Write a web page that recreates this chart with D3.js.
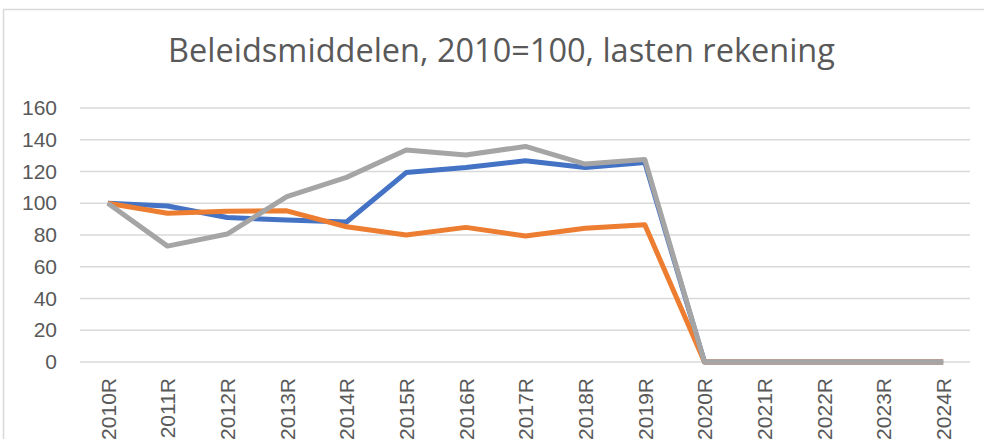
<!DOCTYPE html>
<html>
<head>
<meta charset="utf-8">
<script src="https://cdn.jsdelivr.net/npm/d3@7"></script>
<style>
  body { margin: 0; background: #fff; }
  svg { display: block; }
</style>
</head>
<body>
<div id="chartContainer"></div>
<script>
// data
const years = ["2010R", "2011R", "2012R", "2013R", "2014R", "2015R", "2016R", "2017R",
  "2018R", "2019R", "2020R", "2021R", "2022R", "2023R", "2024R"];
const blueValues = [100, 98.3, 91, 89.4, 88.2, 119.3, 122.5, 126.8, 122.5, 125.6, 0, 0, 0, 0, 0];
const orangeValues = [100, 93.7, 95, 95.2, 85.2, 80, 84.8, 79.4, 84.2, 86.5, 0, 0, 0, 0, 0];
const grayValues = [100, 73, 80.6, 104.1, 116.3, 133.5, 130.4, 135.8, 124.7, 127.6, 0, 0, 0, 0, 0];
const yTicks = [0, 20, 40, 60, 80, 100, 120, 140, 160];
const title = "Beleidsmiddelen, 2010=100, lasten rekening";

const W = 984, H = 439;
const margin = { top: 108, right: 14, bottom: 77, left: 80 };

const svg = d3.select("#chartContainer")
  .append("svg")
  .attr("width", W)
  .attr("height", H);

// chart frame
svg.append("path")
  .attr("d", "M3.5," + H + "V9.5H" + W)
  .attr("fill", "none")
  .attr("stroke", "#d9d9d9")
  .attr("stroke-width", 1.5);

// title, sized to the reference width
const titleText = svg.append("text")
  .attr("x", 501.5)
  .attr("y", 62)
  .attr("text-anchor", "middle")
  .attr("fill", "#595959")
  .style("font-family", "'Open Sans', sans-serif")
  .style("font-size", "28px")
  .text(title);
const tw = titleText.node().getComputedTextLength();
titleText.style("font-size", (28 * 667 / tw) + "px");

// scales
const x = d3.scalePoint().domain(years).range([78, 973]).padding(0.5);
const y = d3.scaleLinear().domain([0, 160]).range([H - margin.bottom, margin.top]);

// gridlines
svg.append("g")
  .selectAll("line")
  .data(yTicks)
  .join("line")
  .attr("x1", margin.left)
  .attr("x2", W - margin.right)
  .attr("y1", (d) => y(d))
  .attr("y2", (d) => y(d))
  .attr("stroke", "#d9d9d9")
  .attr("stroke-width", 1.5);

// y axis labels
svg.append("g")
  .attr("transform", "translate(" + margin.left + ",0)")
  .call(d3.axisLeft(y).tickValues(yTicks).tickSize(0).tickPadding(23))
  .call((g) => g.select(".domain").remove())
  .selectAll("text")
  .attr("fill", "#595959")
  .style("font-family", "'Liberation Sans', Arial, sans-serif")
  .style("font-size", "21px");

// x axis labels, rotated
svg.append("g")
  .attr("transform", "translate(0," + y(0) + ")")
  .call(d3.axisBottom(x).tickSize(0))
  .call((g) => g.select(".domain").remove())
  .selectAll("text")
  .attr("transform", "rotate(-90)")
  .attr("x", -16)
  .attr("y", 0)
  .attr("dy", "0.35em")
  .attr("text-anchor", "end")
  .attr("fill", "#595959")
  .style("font-family", "'Liberation Sans', Arial, sans-serif")
  .style("font-size", "21px");

// lines
const line = d3.line()
  .x((d, i) => x(years[i]))
  .y((d) => y(d));

const series = [
  { values: blueValues, color: "#4472c4" },
  { values: orangeValues, color: "#ed7d31" },
  { values: grayValues, color: "#a5a5a5" },
];

svg.append("g")
  .selectAll("path")
  .data(series)
  .join("path")
  .attr("d", (d) => line(d.values))
  .attr("fill", "none")
  .attr("stroke", (d) => d.color)
  .attr("stroke-width", 5)
  .attr("stroke-linejoin", "round");
</script>
</body>
</html>
